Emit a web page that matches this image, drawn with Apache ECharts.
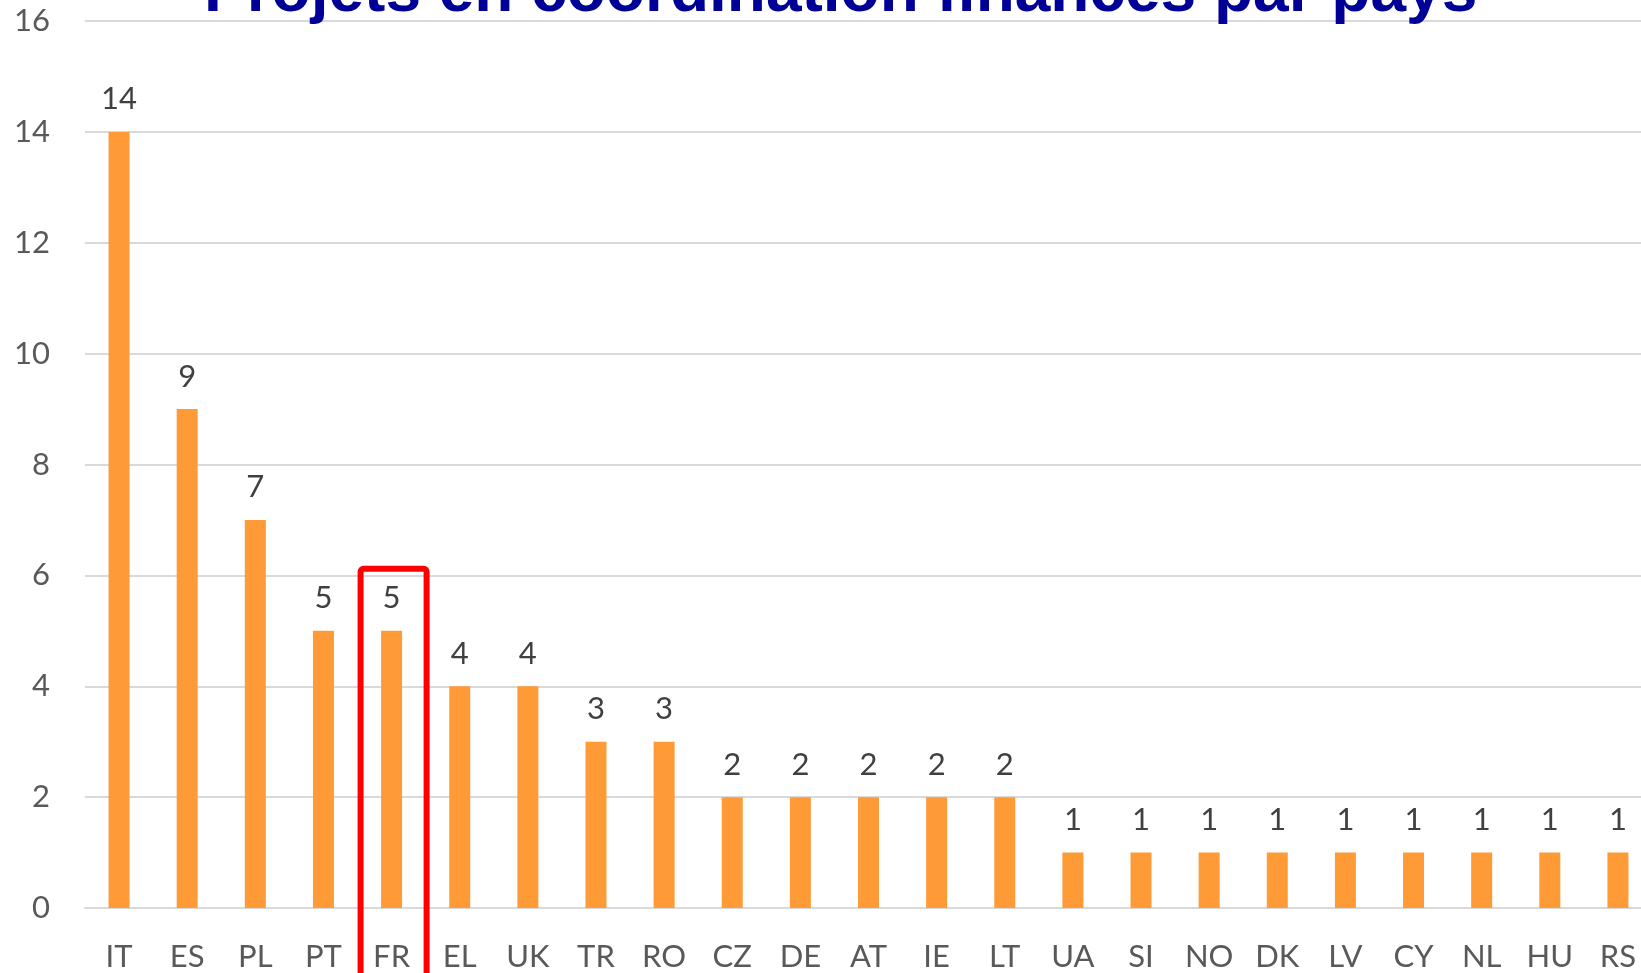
<!DOCTYPE html>
<html>
<head>
    <meta charset="UTF-8">
    <title>Projets en coordination financés par pays</title>
    <script src="https://cdn.jsdelivr.net/npm/echarts@6/dist/echarts.min.js"></script>
</head>
<body style="margin:0;">
    <div id="chartBox" style="width:1641px;height:973px;"></div>
    <script>
        // pays et nombre de projets
        var countries = ['IT', 'ES', 'PL', 'PT', 'FR', 'EL', 'UK', 'TR', 'RO', 'CZ', 'DE', 'AT',
            'IE', 'LT', 'UA', 'SI', 'NO', 'DK', 'LV', 'CY', 'NL', 'HU', 'RS'];
        var projects = [14, 9, 7, 5, 5, 4, 4, 3, 3, 2, 2, 2, 2, 2, 1, 1, 1, 1, 1, 1, 1, 1, 1];
        var yTicks = [0, 16, 2]; // min, max, interval
        var highlighted = 'FR';
        var boxTop = 6.12; // haut du cadre rouge, en unités de l'axe

        var myChart = echarts.init(document.getElementById('chartBox'));

        var option = {
            backgroundColor: '#ffffff',
            animation: false,
            title: {
                text: 'Projets en coordination financés par pays',
                left: 199,
                top: -44,
                textStyle: {
                    fontFamily: 'Liberation Sans',
                    fontWeight: 'bold',
                    fontSize: 64,
                    color: '#000096'
                }
            },
            grid: {
                left: 85,
                top: 21,
                width: 1567,
                bottom: 65,
                outerBoundsMode: 'none'
            },
            xAxis: {
                type: 'category',
                data: countries,
                axisTick: { show: false },
                axisLine: { lineStyle: { color: '#d9d9d9', width: 2 } },
                axisLabel: {
                    interval: 0,
                    margin: 33,
                    color: '#595959',
                    fontFamily: 'Lato',
                    fontSize: 31
                }
            },
            yAxis: {
                type: 'value',
                min: yTicks[0],
                max: yTicks[1],
                interval: yTicks[2],
                axisLine: { show: false },
                axisTick: { show: false },
                splitLine: { lineStyle: { color: '#d9d9d9', width: 2 } },
                axisLabel: {
                    margin: 35,
                    color: '#595959',
                    fontFamily: 'Lato',
                    fontSize: 31
                }
            },
            series: [{
                type: 'bar',
                barWidth: 21,
                data: projects,
                itemStyle: { color: '#ff9b37' },
                label: {
                    show: true,
                    position: 'top',
                    distance: 17,
                    color: '#404040',
                    fontFamily: 'Lato',
                    fontSize: 31
                }
            }]
        };
        myChart.setOption(option);

        // cadre rouge autour de FR
        var idx = countries.indexOf(highlighted);
        var pCenter = myChart.convertToPixel({ seriesIndex: 0 }, [idx, boxTop]);
        var cx = pCenter[0] + 2;
        myChart.setOption({
            graphic: [{
                type: 'rect',
                shape: { x: cx - 33, y: pCenter[1], width: 66, height: 973 - pCenter[1] + 20, r: 3 },
                style: { fill: 'none', stroke: '#ff0000', lineWidth: 6 },
                z: 100
            }]
        });
    </script>
</body>
</html>
